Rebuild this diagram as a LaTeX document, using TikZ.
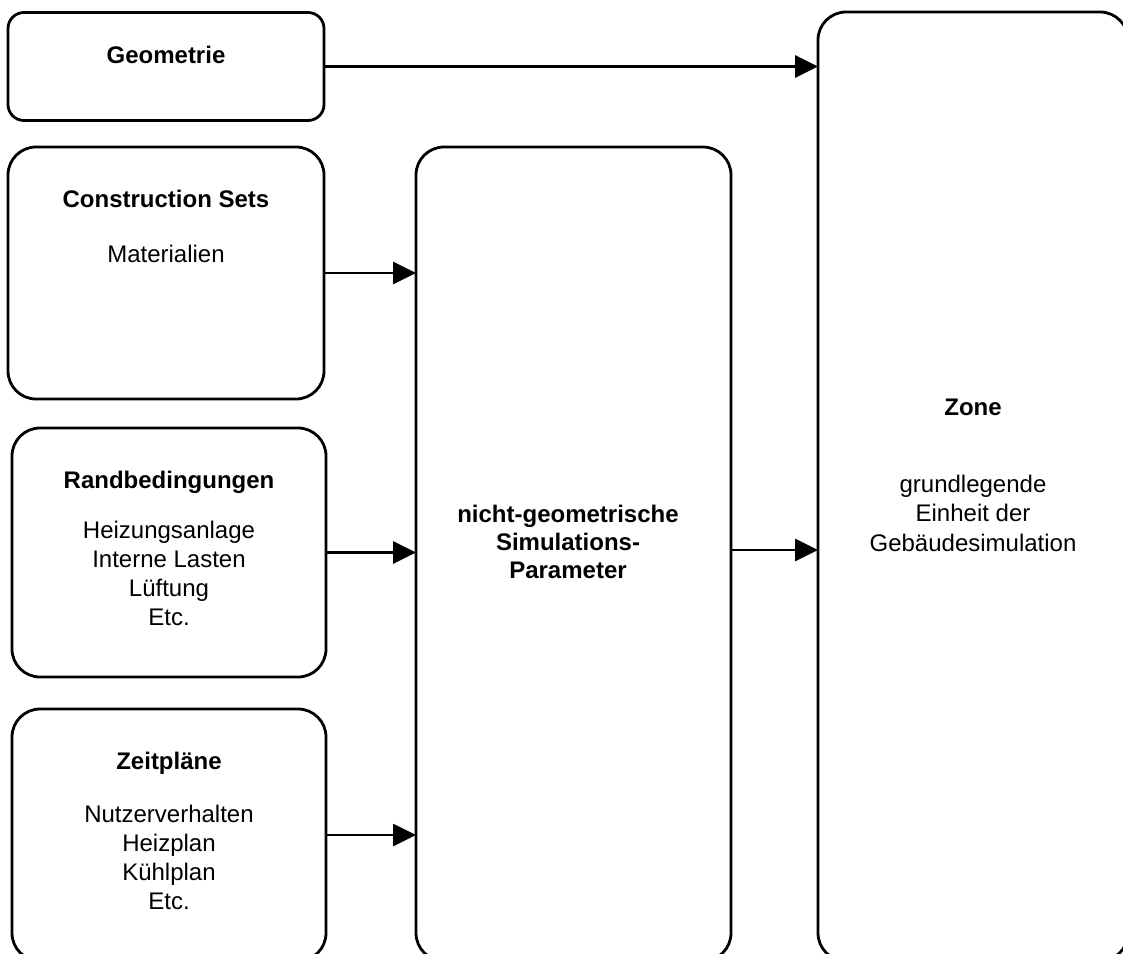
\documentclass[tikz,border=0pt]{standalone}
\usepackage{fontspec}
\setmainfont{Liberation Sans}
\usetikzlibrary{arrows.meta}
\tikzset{
  box/.style={draw=black, line width=2.8pt, fill=none, rounded corners=28pt, inner sep=0pt, outer sep=0pt},
  lbl/.style={anchor=base, align=center, inner sep=0pt, font=\fontsize{24}{29}\selectfont},
  hd/.style={lbl, font=\fontsize{24}{29}\selectfont\bfseries},
  conn/.style={draw=black, line width=2.8pt, -{Triangle[length=23pt,width=22pt]}}
}
\begin{document}
\begin{tikzpicture}[x=1pt,y=-1pt]
\useasboundingbox (0,0) rectangle (1123,953);
\clip (0,0) rectangle (1123,953);
\fill[white] (0,0) rectangle (1123,953);
% boxes
\node[box, rounded corners=16pt, minimum width=316pt, minimum height=108pt] (geo) at (166,66.5) {};
\node[box, minimum width=316pt, minimum height=252pt] (cs) at (166,273) {};
\node[box, minimum width=314pt, minimum height=249pt] (rand) at (169,552.5) {};
\node[box, minimum width=314pt, minimum height=252pt] (zeit) at (169,835) {};
\node[box, minimum width=315pt, minimum height=814pt] (mid) at (573.5,554) {};
\node[box, minimum width=310pt, minimum height=949pt] (zone) at (973,486.5) {};
% texts (multi-line nodes: base anchor = last line's baseline)
\node[hd] (geoT) at (166,63) {Geometrie};
\node[hd] (csT) at (166,207) {Construction Sets};
\node[lbl] (csB) at (166,262) {Materialien};
\node[hd] (randT) at (169,488) {Randbedingungen};
\node[lbl] (randB) at (169,625) {Heizungsanlage\\Interne Lasten\\Lüftung\\Etc.};
\node[hd] (zeitT) at (169,769) {Zeitpläne};
\node[lbl] (zeitB) at (169,909) {Nutzerverhalten\\Heizplan\\Kühlplan\\Etc.};
\node[hd, font=\fontsize{24}{28}\selectfont\bfseries] (midT) at (568,578) {nicht-geometrische\\Simulations-\\Parameter};
\node[hd] (zoneT) at (973,415) {Zone};
\node[lbl, font=\fontsize{24}{29.5}\selectfont] (zoneB) at (973,551) {grundlegende\\Einheit der\\Gebäudesimulation};
% connectors
\coordinate (midOut) at ([yshift=4pt]mid.east);
\draw[conn] (geo.east) -- (geo.east -| zone.west);
\draw[conn] (cs.east) -- (cs.east -| mid.west);
\draw[conn] (rand.east) -- (rand.east -| mid.west);
\draw[conn] (zeit.east) -- (zeit.east -| mid.west);
\draw[conn] (midOut) -- (midOut -| zone.west);
\end{tikzpicture}
\end{document}
